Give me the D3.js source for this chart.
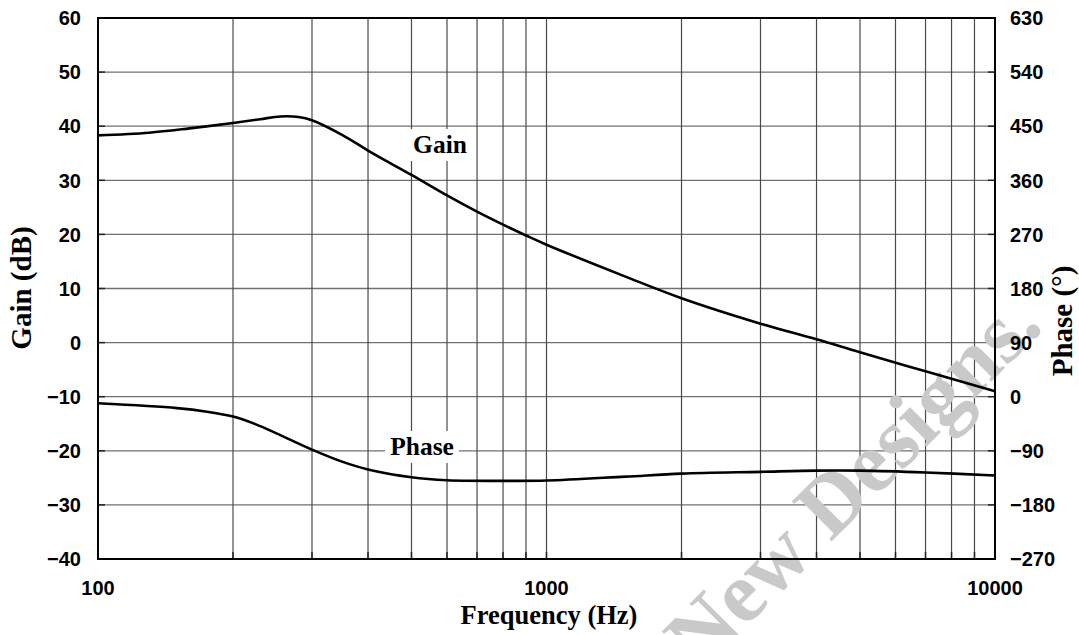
<!DOCTYPE html>
<html>
<head>
<meta charset="utf-8">
<script src="https://cdn.jsdelivr.net/npm/d3@7"></script>
<style>
  html, body { margin: 0; padding: 0; background: #fff; }
  svg { display: block; }
</style>
</head>
<body>
<svg id="chart" width="1079" height="635"></svg>
<script>
// ---- data ----
const gainFreq = [100, 130, 160, 200, 230, 255, 280, 300, 350, 400, 450, 500, 600, 700, 800, 900, 1000, 1500, 2000, 3000, 4000, 5000, 7000, 10000];
const gainDb   = [38.3, 38.8, 39.6, 40.6, 41.3, 41.8, 41.7, 41.1, 38.4, 35.5, 33.1, 31.0, 27.2, 24.2, 21.8, 19.8, 18.1, 12.2, 8.2, 3.5, 0.6, -1.8, -5.3, -9.0];
const phaseFreq = [100, 150, 175, 200, 225, 250, 300, 350, 400, 500, 600, 800, 1000, 1500, 2000, 3000, 4000, 5000, 7000, 10000];
const phaseDeg  = [-11, -19, -25, -33, -46, -61, -88, -108, -121, -134, -139, -140, -139.5, -133, -128, -125, -123, -123, -126, -131];
const gainTicks  = [-40, -30, -20, -10, 0, 10, 20, 30, 40, 50, 60];
const phaseTicks = [-270, -180, -90, 0, 90, 180, 270, 360, 450, 540, 630];
const freqLabels = [100, 1000, 10000];
const freqGrid   = [200, 300, 400, 500, 600, 700, 800, 900, 2000, 3000, 4000, 5000, 6000, 7000, 8000, 9000];

// ---- layout ----
const L = 98, R = 995, T = 18, B = 559;
const svg = d3.select("#chart");
const x = d3.scaleLog().domain([100, 10000]).range([L, R]);
const yG = d3.scaleLinear().domain([-40, 60]).range([B, T]);
const yP = d3.scaleLinear().domain([-270, 630]).range([B, T]);
const fmt = v => (v < 0 ? "\u2212" + Math.abs(v) : String(v));

// gridlines
svg.append("g").selectAll("line").data(gainTicks.slice(1, -1)).join("line")
  .attr("x1", L).attr("x2", R).attr("y1", d => yG(d)).attr("y2", d => yG(d))
  .attr("stroke", "#707070").attr("stroke-width", 1.3);
svg.append("g").selectAll("line").data(freqGrid.concat([1000])).join("line")
  .attr("x1", d => x(d)).attr("x2", d => x(d)).attr("y1", T).attr("y2", B)
  .attr("stroke", "#4a4a4a").attr("stroke-width", 1.2);

// inner ticks
svg.append("g").selectAll("line").data(gainTicks).join("line")
  .attr("x1", L).attr("x2", L + 7).attr("y1", d => yG(d)).attr("y2", d => yG(d))
  .attr("stroke", "#222").attr("stroke-width", 1.5);
svg.append("g").selectAll("line").data(gainTicks).join("line")
  .attr("x1", R - 7).attr("x2", R).attr("y1", d => yG(d)).attr("y2", d => yG(d))
  .attr("stroke", "#222").attr("stroke-width", 1.5);
svg.append("g").selectAll("line").data(freqGrid.concat([1000])).join("line")
  .attr("x1", d => x(d)).attr("x2", d => x(d)).attr("y1", B - 7).attr("y2", B)
  .attr("stroke", "#222").attr("stroke-width", 1.5);

// watermark
svg.append("text")
  .attr("transform", "translate(1045,328) rotate(-45)")
  .attr("text-anchor", "end")
  .attr("font-family", "Liberation Serif, Times New Roman, serif")
  .attr("font-weight", "bold").attr("font-size", 86)
  .attr("fill", "#c9c9c9")
  .text("New Designs.");

// curves
const lineG = d3.line().x((d, i) => x(gainFreq[i])).y(d => yG(d)).curve(d3.curveCatmullRom.alpha(0.5));
const lineP = d3.line().x((d, i) => x(phaseFreq[i])).y(d => yP(d)).curve(d3.curveCatmullRom.alpha(0.5));
svg.append("path").datum(gainDb).attr("d", lineG)
  .attr("fill", "none").attr("stroke", "#000").attr("stroke-width", 2.6);
svg.append("path").datum(phaseDeg).attr("d", lineP)
  .attr("fill", "none").attr("stroke", "#000").attr("stroke-width", 2.6);

// plot border
svg.append("rect").attr("x", L).attr("y", T).attr("width", R - L).attr("height", B - T)
  .attr("fill", "none").attr("stroke", "#000").attr("stroke-width", 2);

// curve labels with white boxes
function boxedLabel(cx, baseline, txt) {
  const g = svg.append("g");
  const t = g.append("text").attr("x", cx).attr("y", baseline)
    .attr("text-anchor", "middle")
    .attr("font-family", "Liberation Serif, Times New Roman, serif")
    .attr("font-weight", "bold").attr("font-size", 25.5).text(txt);
  const bb = t.node().getBBox();
  g.insert("rect", "text").attr("x", bb.x - 5).attr("y", bb.y - 1)
    .attr("width", bb.width + 10).attr("height", bb.height + 3).attr("fill", "#fff");
}
boxedLabel(440, 153, "Gain");
boxedLabel(422, 455, "Phase");

// tick labels
const tickFont = "Liberation Sans, Arial, sans-serif";
svg.append("g").selectAll("text").data(gainTicks).join("text")
  .attr("x", 81).attr("y", d => yG(d)).attr("dy", "0.36em")
  .attr("text-anchor", "end").attr("font-family", tickFont)
  .attr("font-weight", "bold").attr("font-size", 20).text(fmt);
svg.append("g").selectAll("text").data(phaseTicks).join("text")
  .attr("x", 1010).attr("y", d => yP(d)).attr("dy", "0.36em")
  .attr("text-anchor", "start").attr("font-family", tickFont)
  .attr("font-weight", "bold").attr("font-size", 20).text(fmt);
svg.append("g").selectAll("text").data(freqLabels).join("text")
  .attr("x", d => x(d)).attr("y", 595)
  .attr("text-anchor", "middle").attr("font-family", tickFont)
  .attr("font-weight", "bold").attr("font-size", 20).text(d => String(d));

// axis titles
const titleFont = "Liberation Serif, Times New Roman, serif";
svg.append("text").attr("x", 549).attr("y", 624).attr("text-anchor", "middle")
  .attr("font-family", titleFont).attr("font-weight", "bold").attr("font-size", 26.5)
  .text("Frequency (Hz)");
svg.append("text").attr("transform", "translate(31,288) rotate(-90)").attr("text-anchor", "middle")
  .attr("font-family", titleFont).attr("font-weight", "bold").attr("font-size", 29)
  .text("Gain (dB)");
svg.append("text").attr("transform", "translate(1072,321) rotate(-90)").attr("text-anchor", "middle")
  .attr("font-family", titleFont).attr("font-weight", "bold").attr("font-size", 29)
  .text("Phase (\u00B0)");
</script>
</body>
</html>
